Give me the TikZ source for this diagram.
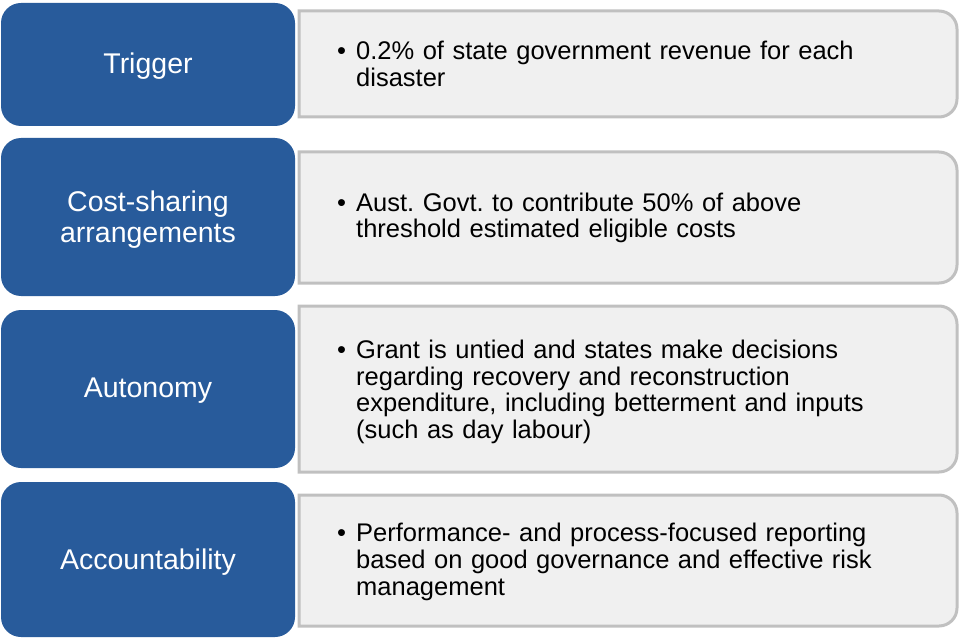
\documentclass[tikz,border=0pt]{standalone}
\usepackage{fontspec}
\setmainfont{Liberation Sans}
\definecolor{hblue}{RGB}{40,91,155}
\definecolor{gfill}{RGB}{240,240,240}
\definecolor{gline}{RGB}{192,192,192}
\tikzset{
  headbox/.style={fill=hblue, draw=none},
  detailbox/.style={fill=gfill, draw=gline, line width=3pt},
  headtext/.style={text=white, align=center, inner sep=0pt, font=\fontsize{28.5}{30.5}\selectfont},
  bullettext/.style={anchor=west, inner sep=0pt, text width=610pt, font=\fontsize{25.5}{26.8}\selectfont}
}
\frenchspacing
\newcommand{\bul}[1]{\frenchspacing\hangindent=19pt\hangafter=1\noindent\makebox[19pt][l]{•}#1\par}
\newcommand{\graybox}[2]{%
  \draw[detailbox] (299,-#1) -- (939,-#1) arc[start angle=90,end angle=0,radius=18pt]
   -- (957,-#2+18) arc[start angle=0,end angle=-90,radius=18pt] -- (299,-#2) -- cycle;}
\begin{document}
\begin{tikzpicture}[x=1pt,y=1pt]
\useasboundingbox (0,0) rectangle (960,-639);
% detail boxes
\graybox{11}{117}
\graybox{152}{283}
\graybox{306}{472}
\graybox{495}{626}
% head boxes
\fill[headbox, rounded corners=20pt] (1,-3) rectangle (295,-126);
\fill[headbox, rounded corners=20pt] (1,-138) rectangle (295,-296);
\fill[headbox, rounded corners=20pt] (1,-310) rectangle (295,-468);
\fill[headbox, rounded corners=20pt] (1,-482) rectangle (295,-637);
% head texts
\node[headtext] (h1) at (148,-66) {Trigger};
\node[headtext] (h2) at (148,-219.5) {Cost-sharing\\arrangements};
\node[headtext] (h3) at (148,-391) {Autonomy};
\node[headtext] (h4) at (148,-562) {Accountability};
% detail texts
\node[bullettext] (d1) at (337,-64) {\bul{0.2\% of state government revenue for each\newline disaster}};
\node[bullettext] (d2) at (337,-218) {\bul{Aust. Govt. to contribute 50\% of above\newline threshold estimated eligible costs}};
\node[bullettext] (d3) at (337,-392) {\bul{Grant is untied and states make decisions\newline regarding recovery and reconstruction\newline expenditure, including betterment and inputs\newline (such as day labour)}};
\node[bullettext] (d4) at (337,-562) {\bul{Performance- and process-focused reporting\newline based on good governance and effective risk\newline management}};
\end{tikzpicture}
\end{document}
